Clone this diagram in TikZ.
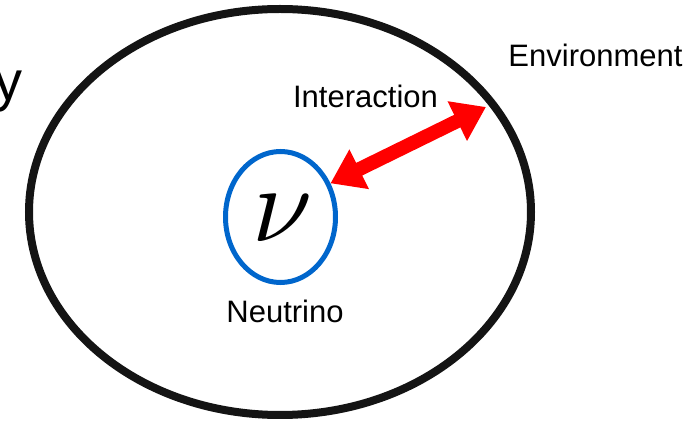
\documentclass[tikz,border=0pt]{standalone}
\usepackage{fontspec}
\usepackage{graphicx}
\setmainfont{Liberation Sans}
\usetikzlibrary{shapes.geometric,arrows.meta}
\definecolor{nublue}{RGB}{0,102,204}
\definecolor{arrred}{RGB}{255,0,0}
\begin{document}
\begin{tikzpicture}[x=1pt,y=-1pt,
  lbl/.style={font=\fontsize{31}{31}\selectfont, inner sep=0pt, text=black},
  bigring/.style={ellipse, draw=black!92, line width=8pt, minimum width=502pt, minimum height=406pt, inner sep=0pt},
  smallring/.style={ellipse, draw=nublue, line width=5pt, minimum width=110pt, minimum height=131pt, inner sep=0pt},
  interarrow/.style={draw=arrred, line width=14pt, {Triangle[length=32pt,width=42pt]}-{Triangle[length=32pt,width=42pt]}}
]
\useasboundingbox (0,0) rectangle (689,422);
\node[bigring] (env) at (280,212) {};
\node[smallring] (nu) at (280.5,217) {};
\node[inner sep=0pt] (nusym) at (283,218) {\scalebox{10.8}{$\nu$}};
\node[lbl] (neutrino) at (285,311.5) {Neutrino};
\node[lbl] (interaction) at (365.5,96) {Interaction};
\node[lbl] (environment) at (595.5,55) {Environment};
\node[inner sep=0pt, anchor=base east, font=\fontsize{56}{56}\selectfont] (ycut) at (23,101) {y};
\coordinate (envpt) at (486,107);
\draw[interarrow] (nu.34) -- (envpt);
\end{tikzpicture}
\end{document}
